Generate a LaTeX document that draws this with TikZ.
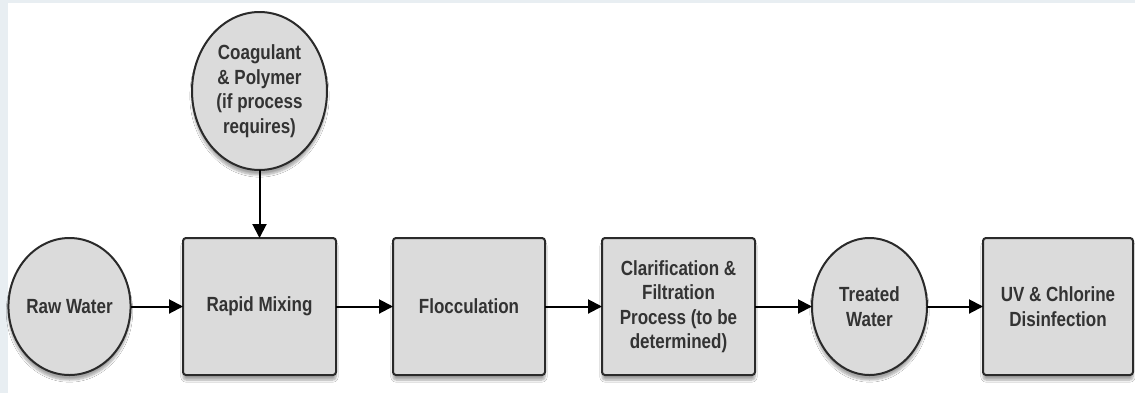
\documentclass[tikz,border=0pt]{standalone}
\usepackage{fontspec}
\setmainfont{Liberation Sans}[FakeStretch=0.83]
\usetikzlibrary{shapes.geometric,arrows.meta,shadows.blur}
\definecolor{bgband}{HTML}{E8EEF2}
\definecolor{shapefill}{HTML}{DBDBDB}
\definecolor{shapeline}{HTML}{2A2A2A}
\definecolor{txt}{HTML}{333333}
\tikzset{
  base/.style={draw=shapeline, fill=shapefill, line width=2pt, inner sep=0pt, outer sep=0pt,
    font=\fontsize{20.5}{24.5}\selectfont\bfseries, text=txt, align=center,
    blur shadow={shadow xshift=0pt, shadow yshift=-5pt, shadow blur steps=8, shadow opacity=35}},
  procbox/.style={base, rectangle, rounded corners=3pt, minimum height=137pt},
  oval/.style={base, ellipse},
  flow/.style={line width=2pt, draw=black, -{Triangle[length=14pt,width=14pt]}}
}
\begin{document}
\begin{tikzpicture}[x=1pt,y=-1pt]
\useasboundingbox (0,0) rectangle (1135,392);
\fill[bgband] (-5,-5) rectangle (1140,400);
\fill[white] (8,3) rectangle (1140,400);
\node[oval, minimum width=115pt, minimum height=137pt] (raw) at (69.5,306.5) {Raw Water};
\node[procbox, minimum width=153pt] (rapid) at (259.5,306.5) {Rapid Mixing};
\node[oval, minimum width=135pt, minimum height=158pt] (coag) at (259.5,91) {Coagulant\\\& Polymer\\(if process\\requires)};
\node[procbox, minimum width=152pt] (floc) at (469,306.5) {Flocculation};
\node[procbox, minimum width=153pt] (clar) at (678.5,306.5) {Clarification \&\\Filtration\\Process (to be\\determined)};
\node[oval, minimum width=115pt, minimum height=137pt] (treated) at (869.5,306.5) {Treated\\Water};
\node[procbox, minimum width=150pt] (uv) at (1058,306.5) {UV \& Chlorine\\Disinfection};
\draw[flow] (coag) -- (rapid);
\draw[flow] (raw) -- (rapid);
\draw[flow] (rapid) -- (floc);
\draw[flow] (floc) -- (clar);
\draw[flow] (clar) -- (treated);
\draw[flow] (treated) -- (uv);
\end{tikzpicture}
\end{document}
